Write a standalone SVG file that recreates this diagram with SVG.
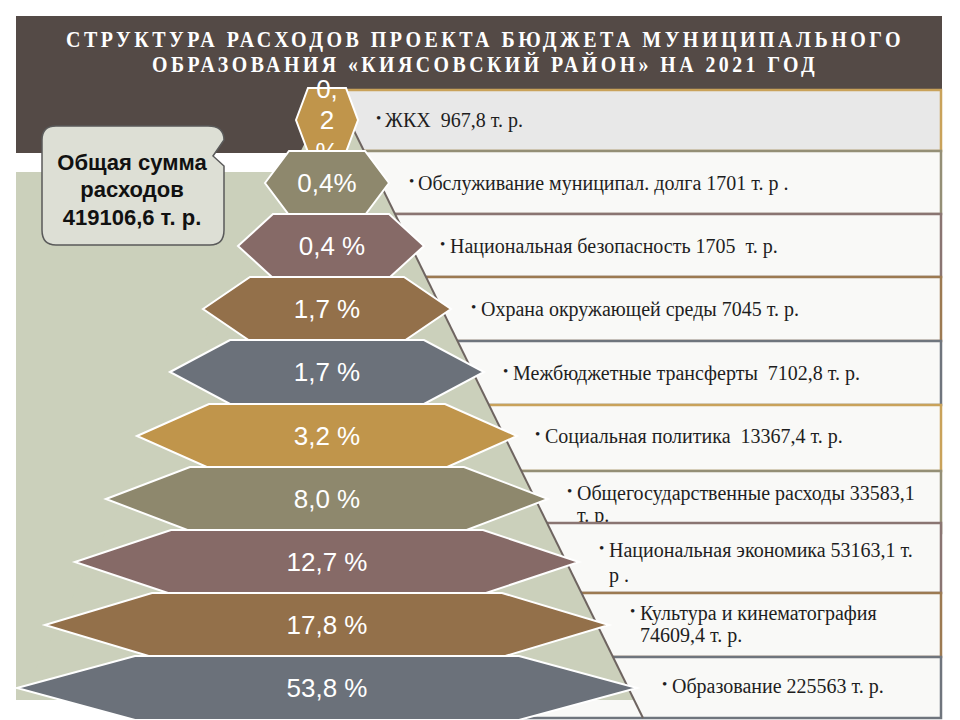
<svg xmlns="http://www.w3.org/2000/svg" width="960" height="720" viewBox="0 0 960 720">
<style>
.title{font-family:"Liberation Serif",serif;font-size:23px;font-weight:bold;fill:#ffffff;letter-spacing:4px}
.pct{font-family:"Liberation Sans",Arial,sans-serif;font-size:26px;fill:#ffffff;text-anchor:middle}
.hex{stroke:#ffffff;stroke-width:2;stroke-linejoin:miter}
.box{stroke-width:2.5;fill:#f9f9f7}
.item{font-family:"Liberation Serif",serif;font-size:20px;fill:#1e1e1e}
.bul{font-family:"Liberation Serif",serif;font-size:15px;fill:#1e1e1e}
.call{font-family:"Liberation Sans",Arial,sans-serif;font-size:22px;font-weight:bold;fill:#111111;text-anchor:middle}
.gold{fill:#c0954b}.olive{fill:#8e886d}.mauve{fill:#866a67}.brown{fill:#93704a}.slate{fill:#6b717a}
.sgold{stroke:#c9a25a}.solive{stroke:#948f76}.smauve{stroke:#8a7572}.sbrown{stroke:#9c7a52}.sslate{stroke:#6f757d}
</style>
<rect x="0" y="0" width="960" height="720" fill="#ffffff"/>
<rect id="header-band" x="16" y="16" width="926" height="137" fill="#544a46"/>
<rect id="sage-band" x="16" y="172" width="926" height="528" fill="#cbd0bb"/>
<g id="title">
<text class="title" x="485" y="47" text-anchor="middle" textLength="838" lengthAdjust="spacingAndGlyphs">СТРУКТУРА РАСХОДОВ ПРОЕКТА БЮДЖЕТА МУНИЦИПАЛЬНОГО</text>
<text class="title" x="485" y="72" text-anchor="middle" textLength="666" lengthAdjust="spacingAndGlyphs">ОБРАЗОВАНИЯ «КИЯСОВСКИЙ РАЙОН» НА 2021 ГОД</text>
</g>
<g id="boxes">
<g id="box-1"><rect class="box sgold" x="330" y="90" width="611" height="61" style="fill:#e8e8e8"/>
<text class="bul" x="376" y="123">•</text><text class="item" x="385" y="127" xml:space="preserve">ЖКХ  967,8 т. р.</text></g>
<g id="box-2"><rect class="box solive" x="330" y="151" width="611" height="63"/>
<text class="bul" x="409" y="186">•</text><text class="item" x="418" y="190" xml:space="preserve">Обслуживание муниципал. долга 1701 т. р .</text></g>
<g id="box-3"><rect class="box smauve" x="330" y="214" width="611" height="63"/>
<text class="bul" x="440" y="249">•</text><text class="item" x="450" y="253" xml:space="preserve">Национальная безопасность 1705  т. р.</text></g>
<g id="box-4"><rect class="box sbrown" x="330" y="277" width="611" height="64"/>
<text class="bul" x="471" y="312">•</text><text class="item" x="481" y="316" xml:space="preserve">Охрана окружающей среды 7045 т. р.</text></g>
<g id="box-5"><rect class="box sslate" x="330" y="341" width="611" height="64"/>
<text class="bul" x="503" y="376">•</text><text class="item" x="513" y="380" xml:space="preserve">Межбюджетные трансферты  7102,8 т. р.</text></g>
<g id="box-6"><rect class="box sgold" x="330" y="405" width="611" height="66"/>
<text class="bul" x="535" y="439">•</text><text class="item" x="545" y="443" xml:space="preserve">Социальная политика  13367,4 т. р.</text></g>
<g id="box-7"><rect class="box solive" x="330" y="471" width="611" height="62"/>
<text class="bul" x="567" y="496">•</text><text class="item" x="577" y="500">Общегосударственные расходы 33583,1</text><text class="item" x="577" y="522">т. р.</text></g>
<g id="box-8"><rect class="box smauve" x="330" y="523" width="611" height="70"/>
<text class="bul" x="599" y="553">•</text><text class="item" x="609" y="557">Национальная экономика 53163,1 т.</text><text class="item" x="609" y="582">р .</text></g>
<g id="box-9"><rect class="box sbrown" x="330" y="593" width="611" height="64"/>
<text class="bul" x="630" y="616">•</text><text class="item" x="640" y="620">Культура и кинематография</text><text class="item" x="640" y="642">74609,4 т. р.</text></g>
<g id="box-10"><rect class="box sslate" x="330" y="657" width="611" height="61"/>
<text class="bul" x="662" y="689">•</text><text class="item" x="672" y="693">Образование 225563 т. р.</text></g>
</g>
<g id="pyramid">
<polygon points="333,88 634,700 20,700" fill="#cbd0bb"/>
<line x1="333" y1="88" x2="643" y2="718" stroke="#6e6460" stroke-width="2"/>
</g>
<g id="callout">
<path d="M56,126 H208 Q224,126 224,140 L213,156 L224,166 V230 Q224,245 210,245 H56 Q42,245 42,230 V140 Q42,126 56,126 Z" fill="#dddfd5" stroke="#5a5a5a" stroke-width="1.5"/>
<text class="call" x="132" y="170">Общая сумма</text>
<text class="call" x="132" y="197">расходов</text>
<text class="call" x="132" y="225">419106,6 т. р.</text>
</g>
<g id="hex-1"><polygon class="hex gold" points="296,120 308,88 346,88 358,120 346,152 308,152"/>
<text class="pct" x="327" y="98">0,</text><text class="pct" x="327" y="129">2</text><text class="pct" x="327" y="161">%</text></g>
<g id="hex-2"><polygon class="hex olive" points="265,183 289,151 365,151 389,183 365,215 289,215"/>
<text class="pct" x="327" y="192">0,4%</text></g>
<g id="hex-3"><polygon class="hex mauve" points="238,246 273,214 389,214 424,246 389,278 273,278"/>
<text class="pct" x="332" y="255" xml:space="preserve">0,4 %</text></g>
<g id="hex-4"><polygon class="hex brown" points="203,309 250,277 404,277 451,309 404,341 250,341"/>
<text class="pct" x="327" y="318">1,7 %</text></g>
<g id="hex-5"><polygon class="hex slate" points="170,372 230,340 424,340 484,372 424,404 230,404"/>
<text class="pct" x="327" y="381">1,7 %</text></g>
<g id="hex-6"><polygon class="hex gold" points="137,436 209,404 445,404 517,436 445,468 209,468"/>
<text class="pct" x="327" y="445">3,2 %</text></g>
<g id="hex-7"><polygon class="hex olive" points="106,499 190,467 464,467 548,499 464,531 190,531"/>
<text class="pct" x="327" y="508">8,0 %</text></g>
<g id="hex-8"><polygon class="hex mauve" points="75,562 171,530 483,530 579,562 483,594 171,594"/>
<text class="pct" x="327" y="571">12,7 %</text></g>
<g id="hex-9"><polygon class="hex brown" points="45,625 152,593 502,593 609,625 502,657 152,657"/>
<text class="pct" x="327" y="634">17,8 %</text></g>
<g id="hex-10"><polygon class="hex slate" points="17,688 135,656 519,656 637,688 519,720 135,720"/>
<text class="pct" x="327" y="697">53,8 %</text></g>
</svg>
